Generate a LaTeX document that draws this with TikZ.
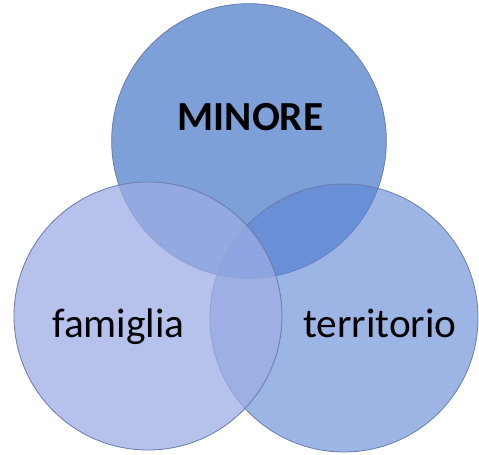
\documentclass[tikz,border=0pt]{standalone}
\usepackage{fontspec}
\setmainfont{Carlito}
\definecolor{topc}{RGB}{126,160,217}
\definecolor{rightc}{RGB}{92,132,212}
\definecolor{leftc}{RGB}{157,173,229}
\definecolor{rimc}{RGB}{105,125,170}
\tikzset{
  ring/.style={draw=rimc, line width=0.6pt},
  lbl/.style={font=\fontsize{31}{36}\selectfont, text=black, inner sep=0pt, anchor=base}
}
\begin{document}
\begin{tikzpicture}[x=0.75pt,y=-0.75pt]
\useasboundingbox (0,0) rectangle (479,454);
\coordinate (ct) at (249,141);
\coordinate (cr) at (344,318);
\coordinate (cl) at (148,316);
\path[ring, fill=topc] (ct) circle[radius=103pt];
\path[ring, fill=rightc, fill opacity=0.6] (cr) circle[radius=100.5pt];
\path[ring, fill=leftc, fill opacity=0.75] (cl) circle[radius=100.5pt];
\node[lbl, font=\fontsize{31}{36}\selectfont\bfseries] (minore) at (250.5,130) {MINORE};
\node[lbl] (famiglia) at (118.5,337) {famiglia};
\node[lbl] (territorio) at (380,337) {territorio};
\end{tikzpicture}
\end{document}
